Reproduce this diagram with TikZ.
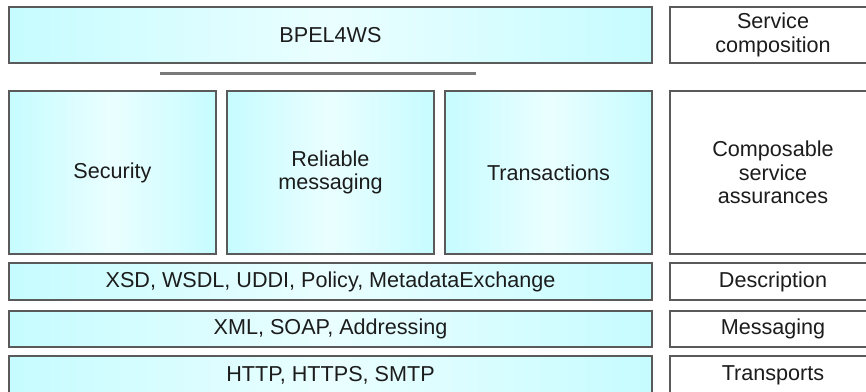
\documentclass[tikz,border=0pt]{standalone}
\usepackage{fontspec}
\setmainfont{Liberation Sans}
\usetikzlibrary{positioning}
\definecolor{boxcyan}{HTML}{C6FCFF}
\definecolor{boxlight}{HTML}{EAFEFF}
\definecolor{edgegray}{HTML}{5A5A5A}
\definecolor{inkgray}{HTML}{1C1C1C}
\definecolor{bargray}{HTML}{7A7A7A}
\newcommand{\layerfont}{\fontsize{21.6}{23.5}\selectfont}
\tikzset{
    layernode/.style = {draw=edgegray, line width=1.8pt, rectangle, inner sep=0em, node distance=0em,
      left color=boxcyan, right color=boxcyan, middle color=boxlight,
      text=inkgray, font=\layerfont, align=center},
    labelnode/.style = {draw=edgegray, line width=1.8pt, rectangle, fill=white, inner sep=0em,
      node distance=0em, text=inkgray, font=\layerfont, align=center},
    barline/.style = {draw=bargray, line width=3pt}
}

\begin{document}
\begin{tikzpicture}[x=1pt, y=-1pt]
    \useasboundingbox (0,0) rectangle (866,391);
    \clip (0,0) rectangle (866,391);

    % left column: the stack
    \node [layernode, name=bpel, minimum width=643pt, minimum height=56pt] at (330.5,35) {BPEL4WS};
    \coordinate (barL) at (160,73);
    \coordinate (barR) at (476,73);
    \draw [barline] (barL) -- (barR);

    \node [layernode, name=security, minimum width=207pt, minimum height=163pt] at (112.5,172.5) {Security};
    \node [layernode, name=reliable, minimum width=207pt, minimum height=163pt] at (330.5,172.5) {Reliable\\messaging};
    \node [layernode, name=transactions, minimum width=207pt, minimum height=163pt] at (548.5,172.5) {Transactions};

    \node [layernode, name=descr, minimum width=643pt, minimum height=37pt] at (330.5,281.5) {XSD, WSDL, UDDI, Policy, MetadataExchange};
    \node [layernode, name=msg, minimum width=643pt, minimum height=36pt] at (330.5,329) {XML, SOAP, Addressing};
    \node [layernode, name=transport, minimum width=643pt, minimum height=38pt] at (330.5,375) {HTTP, HTTPS, SMTP};

    % right column: the layer names
    \node [labelnode, name=servcomp, right of=bpel, xshift=442.5pt, minimum width=206pt, minimum height=56pt] {Service\\composition};
    \node [labelnode, name=assurances, right of=reliable, xshift=442.5pt, minimum width=206pt, minimum height=163pt] {Composable\\service\\assurances};
    \node [labelnode, name=descrlabel, right of=descr, xshift=442.5pt, minimum width=206pt, minimum height=37pt] {Description};
    \node [labelnode, name=msglabel, right of=msg, xshift=442.5pt, minimum width=206pt, minimum height=36pt] {Messaging};
    \node [labelnode, name=transportlabel, right of=transport, xshift=442.5pt, minimum width=206pt, minimum height=38pt] {Transports};
\end{tikzpicture}
\end{document}
